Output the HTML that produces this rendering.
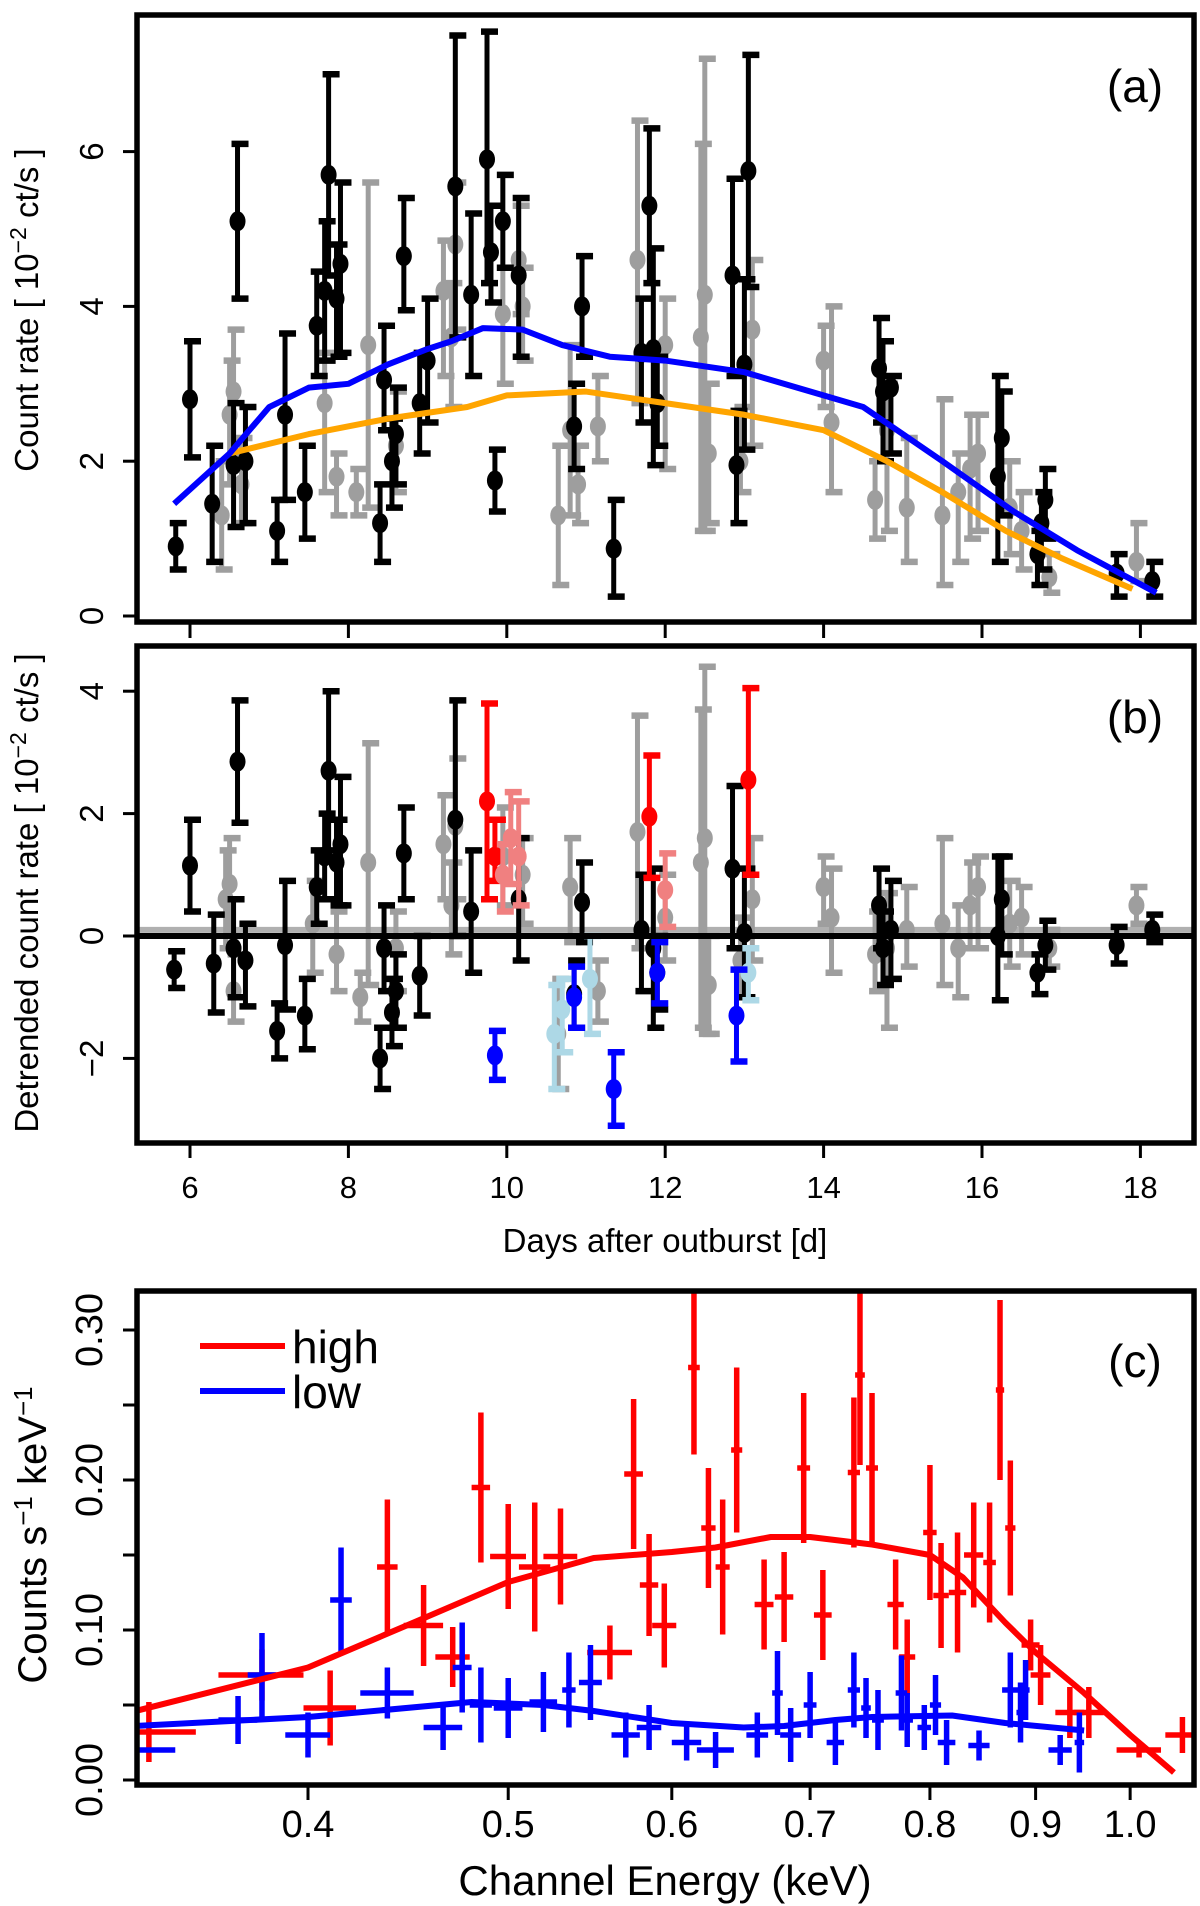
<!DOCTYPE html>
<html><head><meta charset="utf-8"><style>
html,body{margin:0;padding:0;background:#fff}
svg{display:block}
text{font-family:"Liberation Sans",sans-serif}
.nar{font-family:"Liberation Sans Narrow","Liberation Sans",sans-serif}
</style></head><body>
<svg id="fig" width="1200" height="1906" viewBox="0 0 1200 1906" xmlns="http://www.w3.org/2000/svg">
<g id="pa"></g>
<g id="pb"></g>
<g id="pc"></g>
</svg>
<script>
// ---- Panel a data ----
const aBlackDay=[5.82,6.0,6.28,6.55,6.6,6.7,7.1,7.2,7.45,7.6,7.7,7.75,7.85,7.9,8.4,8.45,8.55,8.6,8.7,8.9,9.0,9.35,9.55,9.75,9.8,9.85,9.95,10.15,10.85,10.95,11.35,11.7,11.8,11.85,11.9,12.85,12.9,13.05,13.0,14.7,14.75,14.85,16.2,16.25,16.7,16.75,16.8,17.7,18.15];
const aBlackVal=[0.9,2.8,1.45,1.95,5.1,2.0,1.1,2.6,1.6,3.75,4.2,5.7,4.1,4.55,1.2,3.05,2.0,2.35,4.65,2.75,3.3,5.55,4.15,5.9,4.7,1.75,5.1,4.4,2.45,4.0,0.87,3.4,5.3,3.45,2.75,4.4,1.95,5.75,3.25,3.2,2.9,2.95,1.8,2.3,0.8,1.2,1.5,0.55,0.45];
const aBlackLo=[0.6,2.05,0.7,1.15,4.1,1.2,0.7,1.5,1.0,3.1,3.3,4.4,3.35,3.4,0.7,2.4,1.4,1.7,3.95,2.1,2.5,3.6,3.1,4.3,4.05,1.35,4.5,3.35,1.9,3.35,0.25,2.5,4.3,1.95,2.2,3.1,1.2,4.25,2.15,2.5,2.0,2.1,0.7,1.3,0.4,0.6,1.0,0.25,0.25];
const aBlackHi=[1.2,3.55,2.2,2.75,6.1,2.7,1.5,3.65,2.2,4.45,5.1,7.0,4.8,5.6,1.7,3.75,2.55,2.95,5.4,3.4,4.1,7.5,5.2,7.55,5.3,2.15,5.7,5.4,3.0,4.65,1.5,4.1,6.3,4.75,3.35,5.65,2.65,7.25,4.35,3.85,3.55,3.1,3.1,2.9,1.1,1.6,1.9,0.8,0.7];
const aGrayDay=[6.4,6.5,6.55,6.65,7.7,7.85,8.25,8.1,8.6,9.2,9.35,9.3,9.95,10.15,10.2,10.65,10.8,10.9,11.15,11.65,12.0,12.45,12.5,12.55,12.95,13.1,14.0,14.1,14.65,14.8,15.05,15.5,15.7,15.85,15.95,16.35,16.5,16.85,17.95];
const aGrayVal=[1.3,2.6,2.9,1.7,2.75,1.8,3.5,1.6,2.2,4.2,4.8,3.6,3.9,4.6,4.0,1.3,2.4,1.7,2.45,4.6,3.5,3.6,4.15,2.1,2.0,3.7,3.3,2.5,1.5,2.4,1.4,1.3,1.6,1.9,2.1,1.4,1.1,0.5,0.7];
const aGrayLo=[0.6,1.7,2.1,1.2,1.6,1.3,1.4,1.3,1.6,3.1,3.7,2.7,3.0,3.9,3.3,0.4,1.3,1.2,2.0,2.75,1.9,1.1,1.1,1.2,1.6,2.2,2.7,1.6,1.0,1.1,0.7,0.4,0.7,1.0,1.1,0.8,0.6,0.3,0.45];
const aGrayHi=[2.0,3.3,3.7,2.3,3.4,2.1,5.6,1.9,2.9,4.85,5.6,4.3,4.5,5.3,4.5,2.2,3.5,2.2,3.1,6.4,4.1,6.1,7.2,3.0,2.7,4.6,3.75,4.0,2.0,3.0,2.3,2.8,2.1,2.6,2.6,2.0,1.6,0.8,1.2];
const aOrangeDay=[6.5,7.5,8.5,9.5,10.0,11.0,12.0,13.0,14.0,14.8,15.5,16.3,17.0,17.9];
const aOrangeVal=[2.1,2.35,2.55,2.7,2.85,2.9,2.75,2.6,2.4,2.0,1.6,1.1,0.75,0.35];
const aBlueDay=[5.8,6.5,7.0,7.5,8.0,8.5,9.0,9.3,9.7,10.2,10.7,11.3,12.0,13.0,14.5,15.5,16.4,17.2,18.2];
const aBlueVal=[1.45,2.1,2.7,2.95,3.0,3.25,3.45,3.55,3.72,3.7,3.5,3.35,3.3,3.15,2.7,2.0,1.35,0.85,0.3];
const aYTicks=[0,2,4,6];
const dayTicks=[6,8,10,12,14,16,18];
// ---- Panel b data ----
const bBlackDay=[5.8,6.0,6.3,6.55,6.6,6.7,7.1,7.2,7.45,7.6,7.7,7.75,7.85,7.9,8.4,8.45,8.55,8.6,8.7,8.9,9.35,9.55,10.15,10.85,10.95,11.7,11.85,11.9,12.85,13.0,14.7,14.75,14.85,16.2,16.25,16.7,16.8,17.7,18.15];
const bBlackVal=[-0.55,1.15,-0.45,-0.2,2.85,-0.4,-1.55,-0.15,-1.3,0.8,1.3,2.7,1.2,1.5,-2.0,-0.2,-1.25,-0.9,1.35,-0.65,1.9,0.4,0.6,-0.95,0.55,0.1,-0.2,-0.6,1.1,0.05,0.5,-0.2,0.1,0.0,0.6,-0.6,-0.15,-0.15,0.1];
const bBlackLo=[-0.85,0.4,-1.25,-1.0,1.85,-1.15,-2.0,-1.2,-1.85,0.2,0.6,1.4,0.5,0.5,-2.5,-0.9,-1.8,-1.5,0.6,-1.3,0.0,-0.6,-0.4,-1.5,-0.1,-0.9,-1.5,-1.2,-0.2,-1.0,-0.2,-0.8,-0.7,-1.05,-0.3,-0.95,-0.55,-0.45,-0.1];
const bBlackHi=[-0.25,1.9,0.35,0.6,3.85,0.2,-1.1,0.9,-0.7,1.4,2.0,4.0,1.9,2.6,-1.5,0.5,-0.7,-0.3,2.1,0.0,3.85,1.4,1.6,-0.4,1.2,1.0,1.1,0.0,2.45,1.1,1.1,0.4,0.9,1.3,1.3,-0.3,0.25,0.15,0.35];
const bGrayDay=[6.45,6.5,6.55,7.55,7.85,8.25,8.15,8.6,9.2,9.3,9.35,9.95,10.2,10.65,10.8,11.15,11.65,12.0,12.45,12.5,12.55,12.95,13.1,14.0,14.1,14.65,14.8,15.05,15.5,15.7,15.85,15.95,16.35,16.5,16.85,17.95];
const bGrayVal=[0.6,0.85,-0.9,0.2,-0.3,1.2,-1.0,-0.2,1.5,0.5,1.8,1.3,1.0,-1.6,0.8,-0.9,1.7,0.3,1.2,1.6,-0.8,-0.4,0.6,0.8,0.3,-0.3,-0.2,0.1,0.2,-0.2,0.5,0.8,0.2,0.3,-0.2,0.5];
const bGrayLo=[-0.2,0.0,-1.4,-0.6,-0.9,-0.8,-1.4,-0.9,0.6,-0.3,0.6,0.5,0.2,-2.5,-0.1,-1.4,-0.2,-0.4,-1.5,-1.6,-1.6,-1.0,-0.4,0.2,-0.6,-0.9,-1.5,-0.5,-0.8,-1.0,-0.2,-0.2,-0.5,-0.3,-0.5,0.2];
const bGrayHi=[1.4,1.6,-0.3,0.9,0.4,3.15,-0.6,0.4,2.3,1.2,2.9,2.1,1.6,-0.7,1.6,-0.4,3.6,1.0,3.7,4.4,0.0,0.3,1.6,1.3,1.1,0.4,0.7,0.8,1.6,0.5,1.2,1.3,0.9,0.8,0.1,0.8];
const bRedDay=[9.75,9.85,11.8,13.05];
const bRedVal=[2.2,1.3,1.95,2.55];
const bRedLo=[0.6,0.9,0.95,1.0];
const bRedHi=[3.8,1.9,2.95,4.05];
const bPinkDay=[9.95,10.05,10.15,12.0];
const bPinkVal=[1.0,1.6,1.3,0.75];
const bPinkLo=[0.4,0.85,0.5,0.15];
const bPinkHi=[1.5,2.35,2.2,1.35];
const bBlueDay=[9.85,10.85,11.35,11.9,12.9];
const bBlueVal=[-1.95,-1.0,-2.5,-0.6,-1.3];
const bBlueLo=[-2.35,-1.5,-3.1,-1.1,-2.05];
const bBlueHi=[-1.55,-0.5,-1.9,-0.1,-0.55];
const bLightDay=[10.6,10.7,11.05,13.05];
const bLightVal=[-1.6,-1.2,-0.7,-0.6];
const bLightLo=[-2.5,-1.9,-1.6,-1.05];
const bLightHi=[-0.8,-0.7,0.0,-0.2];
const bYTicks=[-2,0,2,4];
// ---- Panel c data ----
const cRedE=[0.335,0.38,0.41,0.437,0.455,0.47,0.485,0.50,0.515,0.53,0.56,0.575,0.585,0.595,0.615,0.625,0.635,0.645,0.665,0.68,0.695,0.71,0.735,0.74,0.75,0.77,0.78,0.80,0.81,0.825,0.84,0.855,0.865,0.875,0.895,0.905,0.935,0.955,1.01,1.06];
const cRedV=[0.032,0.07,0.048,0.142,0.103,0.082,0.195,0.149,0.142,0.149,0.085,0.204,0.13,0.103,0.275,0.168,0.142,0.22,0.117,0.122,0.208,0.11,0.205,0.27,0.208,0.117,0.082,0.165,0.123,0.125,0.15,0.145,0.26,0.168,0.09,0.07,0.045,0.045,0.02,0.03];
const cRedErr=[0.02,0.017,0.025,0.045,0.027,0.02,0.05,0.035,0.043,0.032,0.018,0.05,0.034,0.028,0.058,0.04,0.045,0.055,0.03,0.03,0.05,0.03,0.05,0.06,0.05,0.03,0.025,0.045,0.035,0.04,0.035,0.04,0.06,0.045,0.017,0.02,0.017,0.017,0.005,0.012];
const cRedXw=[0.018,0.018,0.012,0.005,0.01,0.009,0.005,0.01,0.009,0.01,0.014,0.006,0.006,0.008,0.004,0.005,0.005,0.004,0.007,0.007,0.005,0.007,0.005,0.004,0.005,0.007,0.007,0.006,0.007,0.008,0.009,0.006,0.004,0.005,0.009,0.01,0.015,0.016,0.025,0.02];
const cBlueE=[0.33,0.37,0.38,0.40,0.415,0.437,0.465,0.475,0.485,0.50,0.52,0.535,0.548,0.57,0.585,0.61,0.63,0.66,0.675,0.685,0.70,0.72,0.735,0.745,0.755,0.775,0.78,0.795,0.805,0.815,0.845,0.875,0.885,0.89,0.925,0.945];
const cBlueV=[0.02,0.04,0.07,0.03,0.12,0.058,0.035,0.075,0.05,0.048,0.052,0.06,0.065,0.03,0.035,0.025,0.02,0.03,0.058,0.03,0.05,0.025,0.06,0.048,0.04,0.058,0.04,0.035,0.05,0.025,0.023,0.06,0.045,0.06,0.02,0.025];
const cBlueErr=[0.008,0.016,0.028,0.015,0.035,0.017,0.015,0.03,0.025,0.02,0.02,0.025,0.025,0.015,0.015,0.012,0.012,0.015,0.028,0.018,0.022,0.015,0.025,0.02,0.02,0.025,0.018,0.015,0.02,0.015,0.01,0.025,0.02,0.02,0.01,0.02];
const cBlueXw=[0.015,0.008,0.006,0.01,0.005,0.013,0.01,0.005,0.006,0.008,0.008,0.004,0.007,0.009,0.008,0.01,0.013,0.008,0.004,0.008,0.005,0.007,0.005,0.004,0.005,0.005,0.005,0.006,0.005,0.008,0.01,0.008,0.004,0.004,0.012,0.005];
const cRedModelE=[0.33,0.4,0.45,0.5,0.55,0.6,0.63,0.67,0.7,0.75,0.8,0.83,0.87,0.9,0.95,1.0,1.05];
const cRedModelV=[0.046,0.075,0.105,0.132,0.148,0.152,0.155,0.162,0.162,0.157,0.15,0.135,0.105,0.085,0.058,0.03,0.005];
const cBlueModelE=[0.33,0.4,0.48,0.52,0.55,0.6,0.65,0.68,0.72,0.75,0.82,0.87,0.95];
const cBlueModelV=[0.036,0.042,0.052,0.05,0.046,0.038,0.035,0.036,0.04,0.042,0.043,0.038,0.033];
const cYTicks=[0,0.05,0.1,0.15,0.2,0.25,0.3];
const cYLabels=["0.00","","0.10","","0.20","","0.30"];
const cXTicks=[0.4,0.5,0.6,0.7,0.8,0.9,1.0];
const cXLabels=["0.4","0.5","0.6","0.7","0.8","0.9","1.0"];

const NS="http://www.w3.org/2000/svg";
function mk(parent,tag,attrs){const e=document.createElementNS(NS,tag);for(const k in attrs)e.setAttribute(k,attrs[k]);parent.appendChild(e);return e;}
const L=137,R=1194;
const xDay=d=>190+(d-6)*79.2;
const yA=v=>616-v*77.4;
const yB=v=>936-v*61.2;
const xE=e=>308+2066*Math.log10(e/0.4);
const yC=v=>1780-v*1500;

function frame(g,top,bot,name){
  const r=mk(g,'rect',{x:L,y:top,width:R-L,height:bot-top,fill:'none',stroke:'#000','stroke-width':5.5});
  
  
}
function errPts(g,days,vals,lo,hi,yf,col,name){
  for(let i=0;i<days.length;i++){
    const x=xDay(days[i]);
    const grp=mk(g,'g',{stroke:col,'stroke-width':5,fill:col});
    
    
    mk(grp,'line',{x1:x,x2:x,y1:yf(lo[i]),y2:yf(hi[i])});
    mk(grp,'line',{x1:x-6,x2:x+11,y1:yf(lo[i]),y2:yf(lo[i]),'stroke-width':6.5});
    mk(grp,'line',{x1:x-6,x2:x+11,y1:yf(hi[i]),y2:yf(hi[i]),'stroke-width':6.5});
    mk(grp,'ellipse',{cx:x,cy:yf(vals[i]),rx:8,ry:10,stroke:'none'});
  }
}
function line(g,xs,ys,xf,yf,col,w,name){
  const p=mk(g,'polyline',{points:xs.map((d,i)=>xf(d)+','+yf(ys[i])).join(' '),fill:'none',stroke:col,'stroke-width':w,'stroke-linejoin':'round'});
  
  
}
function txt(g,x,y,s,size,name,opts){
  const t=mk(g,'text',Object.assign({x:x,y:y,'font-size':size,'text-anchor':'middle'},opts||{}));
  t.textContent=s;
  
  
  return t;
}
function yTicks(g,ticks,labels,yf,name){
  ticks.forEach((v,i)=>{
    const y=yf(v);
    mk(g,'line',{x1:L-14,x2:L,y1:y,y2:y,stroke:'#000','stroke-width':3});
    if(labels[i]!==""){
      txt(g,0,0,labels[i],33,name,{transform:`translate(103,${y}) rotate(-90)`});
    }
  });
}

// Panel a
const pa=document.getElementById('pa');
errPts(pa,aGrayDay,aGrayVal,aGrayLo,aGrayHi,yA,'#9e9e9e','gray-point-a');
errPts(pa,aBlackDay,aBlackVal,aBlackLo,aBlackHi,yA,'#000','black-point-a');
line(pa,aOrangeDay,aOrangeVal,xDay,yA,'#ffa500',6,'orange-trend-line');
line(pa,aBlueDay,aBlueVal,xDay,yA,'#0000ff',6,'blue-trend-line');
frame(pa,15,622,'panel-a-frame');
yTicks(pa,aYTicks,aYTicks.map(String),yA,'y-tick-label-a');
dayTicks.forEach(d=>mk(pa,'line',{x1:xDay(d),x2:xDay(d),y1:622,y2:638,stroke:'#000','stroke-width':3}));
txt(pa,0,0,'',33,'y-axis-title-a',{transform:'translate(38,310) rotate(-90)'}).innerHTML='Count rate [ 10<tspan dy="-12" font-size="23">−2</tspan><tspan dy="12"> ct/s ]</tspan>';
txt(pa,1135,102,'(a)',46,'panel-label-a',{class:'nar'});

// Panel b
const pb=document.getElementById('pb');
mk(pb,'line',{x1:L,x2:R,y1:yB(0.1),y2:yB(0.1),stroke:'#b0b0b0','stroke-width':6});
errPts(pb,bGrayDay,bGrayVal,bGrayLo,bGrayHi,yB,'#9e9e9e','gray-point-b');
errPts(pb,bBlackDay,bBlackVal,bBlackLo,bBlackHi,yB,'#000','black-point-b');
errPts(pb,bRedDay,bRedVal,bRedLo,bRedHi,yB,'#ff0000','red-point-b');
errPts(pb,bPinkDay,bPinkVal,bPinkLo,bPinkHi,yB,'#f08080','pink-point-b');
errPts(pb,bLightDay,bLightVal,bLightLo,bLightHi,yB,'#add8e6','lightblue-point-b');
errPts(pb,bBlueDay,bBlueVal,bBlueLo,bBlueHi,yB,'#0000ff','blue-point-b');
const zl=mk(pb,'line',{x1:L,x2:R,y1:yB(0),y2:yB(0),stroke:'#000','stroke-width':6});


frame(pb,646,1143,'panel-b-frame');
yTicks(pb,bYTicks,bYTicks.map(v=>v<0?'−'+(-v):String(v)),yB,'y-tick-label-b');
dayTicks.forEach(d=>{
  mk(pb,'line',{x1:xDay(d),x2:xDay(d),y1:1143,y2:1158,stroke:'#000','stroke-width':3});
  txt(pb,xDay(d),1198,String(d),31,'x-tick-label-b',{class:'nar'});
});
txt(pb,0,0,'',33,'y-axis-title-b',{transform:'translate(38,893) rotate(-90)'}).innerHTML='Detrended count rate [ 10<tspan dy="-12" font-size="23">−2</tspan><tspan dy="12"> ct/s ]</tspan>';
txt(pb,665,1252,'Days after outburst [d]',33,'x-axis-title-b',{class:'nar'});
txt(pb,1135,733,'(b)',46,'panel-label-b',{class:'nar'});

// Panel c
const pc=document.getElementById('pc');
const clip=mk(pc,'clipPath',{id:'cc'});mk(clip,'rect',{x:L,y:1291,width:R-L,height:494});
const cg=mk(pc,'g',{'clip-path':'url(#cc)'});
function cross(E,V,Err,Xw,col,name){
  for(let i=0;i<E.length;i++){
    const grp=mk(cg,'g',{stroke:col,'stroke-width':5.5});
    
    
    mk(grp,'line',{x1:xE(E[i]),x2:xE(E[i]),y1:yC(V[i]-Err[i]),y2:yC(V[i]+Err[i])});
    mk(grp,'line',{x1:xE(E[i]-Xw[i]),x2:xE(E[i]+Xw[i]),y1:yC(V[i]),y2:yC(V[i])});
  }
}
cross(cRedE,cRedV,cRedErr,cRedXw,'#ff0000','high-state-point');
cross(cBlueE,cBlueV,cBlueErr,cBlueXw,'#0000ff','low-state-point');
line(cg,cRedModelE,cRedModelV,xE,yC,'#ff0000',6,'high-model-line');
line(cg,cBlueModelE,cBlueModelV,xE,yC,'#0000ff',6,'low-model-line');
frame(pc,1291,1785,'panel-c-frame');
cYTicks.forEach((v,i)=>{
  const y=yC(v);
  mk(pc,'line',{x1:L-14,x2:L,y1:y,y2:y,stroke:'#000','stroke-width':3});
  if(cYLabels[i]!=="")txt(pc,0,0,cYLabels[i],38,'y-tick-label-c',{transform:`translate(102,${y}) rotate(-90)`});
});
cXTicks.forEach((e,i)=>{
  mk(pc,'line',{x1:xE(e),x2:xE(e),y1:1785,y2:1800,stroke:'#000','stroke-width':3});
  txt(pc,xE(e),1837,cXLabels[i],38,'x-tick-label-c',{class:'nar'});
});
txt(pc,0,0,'',40,'y-axis-title-c',{transform:'translate(46,1535) rotate(-90)'}).innerHTML='Counts s<tspan dy="-14" font-size="26">−1</tspan><tspan dy="14"> keV</tspan><tspan dy="-14" font-size="26">−1</tspan>';
txt(pc,665,1895,'Channel Energy (keV)',42,'x-axis-title-c',{class:'nar'});
txt(pc,1135,1377,'(c)',46,'panel-label-c',{class:'nar'});
const lg=mk(pc,'g',{});


mk(lg,'line',{x1:200,x2:285,y1:1346,y2:1346,stroke:'#ff0000','stroke-width':6});
mk(lg,'line',{x1:200,x2:285,y1:1391,y2:1391,stroke:'#0000ff','stroke-width':6});
txt(lg,292,1363,'high',46,'legend-entry-high',{'text-anchor':'start',class:'nar'});
txt(lg,292,1408,'low',46,'legend-entry-low',{'text-anchor':'start',class:'nar'});
</script>
</body></html>
